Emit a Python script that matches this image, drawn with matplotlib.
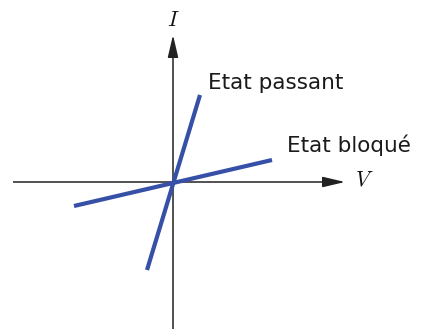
import matplotlib
matplotlib.use("Agg")
import matplotlib.pyplot as plt

# Caracteristique I(V) d'un interrupteur (unites arbitraires, origine au centre)
V_passant = [-26, 27]
I_passant = [-88, 87]
V_bloque = [-99, 99]
I_bloque = [-24, 22]

labels = ["Etat passant", "Etat bloqué"]
label_pos = [(35, 93), (114, 30)]

LINE_COLOR = "#3550a6"
AXIS_COLOR = "#222222"

fig = plt.figure(figsize=(4.21, 3.29), dpi=100)
ax = fig.add_axes([0, 0, 1, 1])
ax.set_xlim(-173, 248)
ax.set_ylim(-147, 182)
ax.axis("off")

arrow = dict(arrowstyle="-|>,head_length=0.85,head_width=0.2",
             color=AXIS_COLOR, lw=1.1, mutation_scale=16,
             shrinkA=0, shrinkB=0)

# Axes with arrowheads
ax.plot([-160, 160], [0, 0], color=AXIS_COLOR, lw=1.1, solid_capstyle="butt")
ax.annotate("", xy=(172, 0), xytext=(150, 0), arrowprops=arrow)
ax.plot([0, 0], [-147, 140], color=AXIS_COLOR, lw=1.1, solid_capstyle="butt")
ax.annotate("", xy=(0, 147), xytext=(0, 126), arrowprops=arrow)

ax.text(191, 2, r"$V$", fontsize=15.5, ha="center", va="center", color="#111111",
        math_fontfamily="cm")
ax.text(0, 162, r"$I$", fontsize=15.5, ha="center", va="center", color="#111111",
        math_fontfamily="cm")

# Characteristic lines
ax.plot(V_passant, I_passant, color=LINE_COLOR, lw=3.0, solid_capstyle="butt")
ax.plot(V_bloque, I_bloque, color=LINE_COLOR, lw=3.0, solid_capstyle="butt")

for txt, (x, y) in zip(labels, label_pos):
    ax.text(x, y, txt, fontsize=15.5, ha="left", va="baseline", color="#1a1a1a",
            family="DejaVu Sans")

fig.savefig("out.png", dpi=100)
